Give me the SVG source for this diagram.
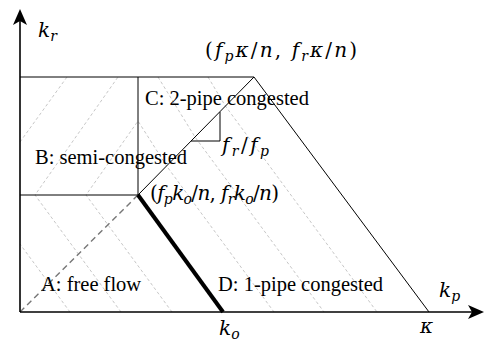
<svg xmlns="http://www.w3.org/2000/svg" width="484" height="342" viewBox="0 0 484 342">
<style>
.ln{stroke:#000;fill:none;stroke-width:1}
.ax{stroke:#000;fill:none;stroke-width:1.6}
.ht{stroke:#b8b8b8;fill:none;stroke-width:0.8;stroke-dasharray:3 2.5}
.lbl{font-family:"Liberation Serif",serif;font-size:20.5px;fill:#000}
.m{font-family:"DejaVu Serif",serif;font-size:20px;fill:#000}
.i{font-style:italic}
.s{font-size:14px;font-style:italic}
</style>
<rect width="484" height="342" fill="#fff"/>
<g id="hatching">
<polyline class="ht" points="121,312 35,195 118,77"/>
<polyline class="ht" points="172,312 86,195 138,121 166.6,166 274,312"/>
<polyline class="ht" points="70,312 20,244"/>
<polyline class="ht" points="20,142 67,77"/>
<polyline class="ht" points="158,77 195,137 324,312"/>
<polyline class="ht" points="208,77 225.4,106 377,312"/>
</g>
<g id="connectors">
<line x1="20" y1="312" x2="138" y2="195" stroke="#777" stroke-width="1.4" stroke-dasharray="6 4"/>
<polyline class="ln" points="20,77 254,77 429,312"/>
<polyline class="ln" points="138,77 138,195 20,195"/>
<line class="ln" x1="138" y1="195" x2="254" y2="77"/>
<polyline class="ln" points="191,141 220,141 220,112"/>
<line x1="138" y1="195" x2="223" y2="312" stroke="#000" stroke-width="4"/>
</g>
<g id="axes">
<line class="ax" x1="20" y1="312" x2="20" y2="18"/>
<line class="ax" x1="20" y1="312" x2="474" y2="312"/>
<polygon points="20,9 27,25 20,21 13,25" fill="#000"/>
<polygon points="484,312 468,305 472,312 468,319" fill="#000"/>
</g>
<g id="region-A"><text class="lbl" x="41" y="291">A: free flow</text></g>
<g id="region-B"><text class="lbl" x="35" y="164">B: semi-congested</text></g>
<g id="region-C"><text class="lbl" x="145" y="105">C: 2-pipe congested</text></g>
<g id="region-D"><text class="lbl" x="218" y="291">D: 1-pipe congested</text></g>
<g id="labels">
<text class="m" x="38" y="37"><tspan class="i">k</tspan><tspan class="s" dy="4">r</tspan></text>
<text class="m" x="439" y="297"><tspan class="i">k</tspan><tspan class="s" dy="4">p</tspan></text>
<text class="m" x="219" y="335"><tspan class="i">k</tspan><tspan class="s" dy="4">o</tspan></text>
<text class="m i" x="420" y="333">κ</text>
<text class="m" x="205" y="57" textLength="152" lengthAdjust="spacing">(<tspan class="i">f</tspan><tspan class="s" dy="4">p</tspan><tspan class="i" dy="-4">κ</tspan>/<tspan class="i">n</tspan>, <tspan class="i">f</tspan><tspan class="s" dy="4">r</tspan><tspan class="i" dy="-4">κ</tspan>/<tspan class="i">n</tspan>)</text>
<text class="m" x="150" y="200" textLength="129" lengthAdjust="spacing">(<tspan class="i">f</tspan><tspan class="s" dy="4">p</tspan><tspan class="i" dy="-4">k</tspan><tspan class="s" dy="4">o</tspan><tspan dy="-4">/</tspan><tspan class="i">n</tspan>, <tspan class="i">f</tspan><tspan class="s" dy="4">r</tspan><tspan class="i" dy="-4">k</tspan><tspan class="s" dy="4">o</tspan><tspan dy="-4">/</tspan><tspan class="i">n</tspan>)</text>
<text class="m" x="222" y="152" textLength="47" lengthAdjust="spacing"><tspan class="i">f</tspan><tspan class="s" dy="4">r</tspan><tspan dy="-4">/</tspan><tspan class="i">f</tspan><tspan class="s" dy="4">p</tspan></text>
</g>
</svg>
